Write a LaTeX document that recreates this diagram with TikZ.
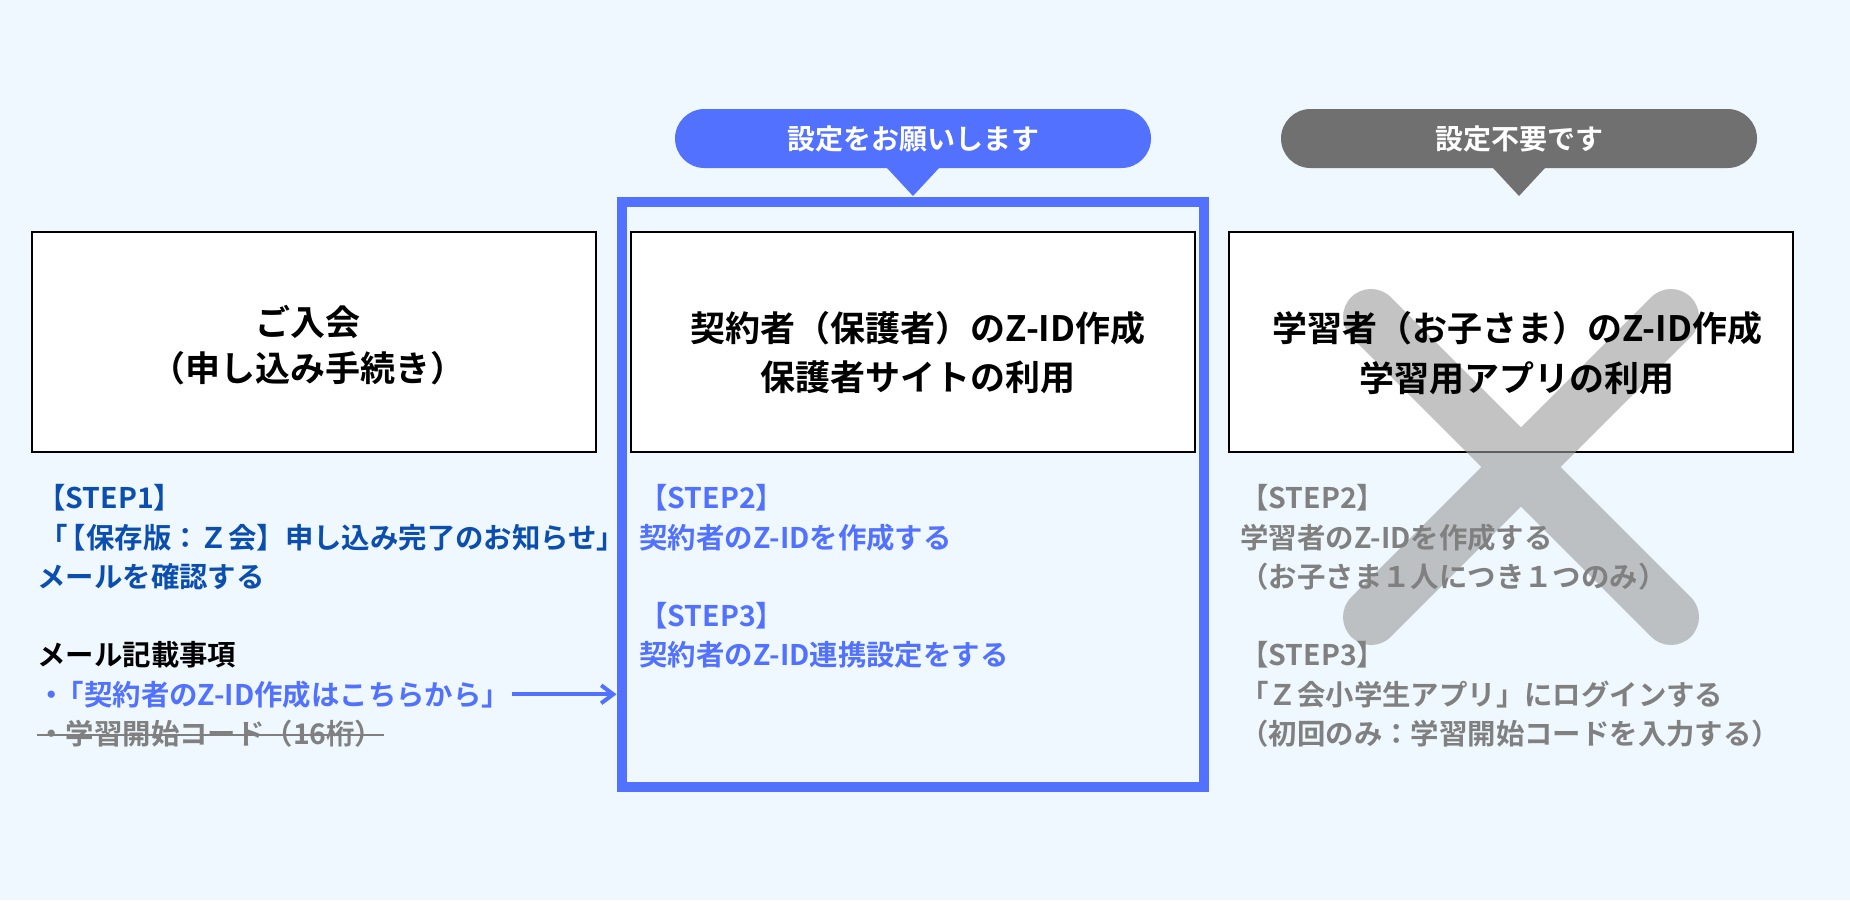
\documentclass[tikz,border=0pt]{standalone}
\usepackage{fontspec}
\setmainfont{Noto Sans CJK JP}[BoldFont={Noto Sans CJK JP Bold}]
\usetikzlibrary{arrows.meta}
\definecolor{bgblue}{HTML}{EEF8FE}
\definecolor{zblue}{HTML}{5271FF}
\definecolor{pillgray}{HTML}{707070}
\definecolor{darkblue}{HTML}{0B4EAF}
\definecolor{txtgray}{HTML}{808080}
\definecolor{xgray}{HTML}{9E9E9E}
\begin{document}
\begin{tikzpicture}[x=0.5pt,y=-0.5pt,
  titlebox/.style={draw=black,line width=0.8pt,fill=white,minimum width=282pt,minimum height=110pt,inner sep=0pt,outer sep=0pt},
  titletext/.style={font=\bfseries\fontsize{17.5}{21}\selectfont,anchor=base,inner sep=0pt},
  pill/.style={rounded corners=14.75pt,minimum width=238pt,minimum height=29.5pt,inner sep=0pt,outer sep=0pt,text=white,font=\bfseries\fontsize{14}{17}\selectfont,text height=10.6pt,text depth=0pt},
  steptext/.style={font=\bfseries\fontsize{14.2}{17}\selectfont,anchor=base west,inner sep=0pt},
  frameline/.style={draw=zblue,line width=5pt,minimum width=291.25pt,minimum height=292.5pt,inner sep=0pt},
  xmark/.style={draw=xgray,line width=28pt,line cap=round,draw opacity=0.61},
  linkarrow/.style={draw=zblue,line width=2pt,-{Straight Barb[length=6pt,width=9pt,line width=2pt]}},
  strikeline/.style={draw=txtgray,line width=1pt}]
\useasboundingbox (0,0) rectangle (1850,900);
\fill[bgblue] (0,0) rectangle (1850,900);
% boxes
\node[titlebox] (box1) at (314,342) {};
\node[titlebox] (box2) at (913,342) {};
\node[titlebox] (box3) at (1511,342) {};
% blue frame
\node[frameline] (frame) at (912.75,494) {};
% pills
\node[pill,fill=zblue] (pill1) at (913,138.5) {設定をお願いします};
\fill[zblue] ([xshift=-13pt]pill1.south) -- ([xshift=13pt]pill1.south) -- ([yshift=-14pt]pill1.south) -- cycle;
\node[pill,fill=pillgray] (pill2) at (1519,138.5) {設定不要です};
\fill[pillgray] ([xshift=-13pt]pill2.south) -- ([xshift=13pt]pill2.south) -- ([yshift=-14pt]pill2.south) -- cycle;
% cross
\draw[xmark] (1371,317) -- (1671,617) (1671,317) -- (1371,617);
% titles
\node[titletext] (b1a) at (308,335) {ご入会};
\node[titletext] (b1b) at (308,381) {（申し込み手続き）};
\node[titletext] (b2a) at (918,341) {契約者（保護者）のZ-ID作成};
\node[titletext] (b2b) at (918,390) {保護者サイトの利用};
\node[titletext] (b3a) at (1517,341) {学習者（お子さま）のZ-ID作成};
\node[titletext] (b3b) at (1517,391) {学習用アプリの利用};
% left column
\node[steptext,text=darkblue] (s1a) at (37,508.5) {【STEP1】};
\node[steptext,text=darkblue] (s1b) at (39,548) {「\kern-0.35em【保存版：Ｚ会】申し込み完了のお知らせ」};
\node[steptext,text=darkblue] (s1c) at (37,587.5) {メールを確認する};
\node[steptext,text=black] (s1d) at (37,665.5) {メール記載事項};
\node[steptext,text=zblue] (link) at (37,705) {・\kern-0.35em「契約者のZ-ID作成はこちらから」};
\node[steptext,text=txtgray] (struck) at (37,744.5) {・学習開始コード（16桁）};
\draw[strikeline] ([yshift=4.9pt]struck.base west) -- ([yshift=4.9pt]struck.base east);
% middle column
\node[steptext,text=zblue] (s2a) at (639,508.5) {【STEP2】};
\node[steptext,text=zblue] (s2b) at (639,548) {契約者のZ-IDを作成する};
\node[steptext,text=zblue] (s2c) at (639,626.5) {【STEP3】};
\node[steptext,text=zblue] (s2d) at (639,665.5) {契約者のZ-ID連携設定をする};
% right column
\node[steptext,text=txtgray] (s3a) at (1240,508.5) {【STEP2】};
\node[steptext,text=txtgray] (s3b) at (1240,548) {学習者のZ-IDを作成する};
\node[steptext,text=txtgray] (s3c) at (1240,587.5) {（お子さま１人につき１つのみ）};
\node[steptext,text=txtgray] (s3d) at (1240,665.5) {【STEP3】};
\node[steptext,text=txtgray] (s3e) at (1240,705) {「Ｚ会小学生アプリ」にログインする};
\node[steptext,text=txtgray] (s3f) at (1240,744.5) {（初回のみ：学習開始コードを入力する）};
% arrow
\draw[linkarrow] ([xshift=0.5pt]link.east) -- (link.east -| frame.west);
\end{tikzpicture}
\end{document}
